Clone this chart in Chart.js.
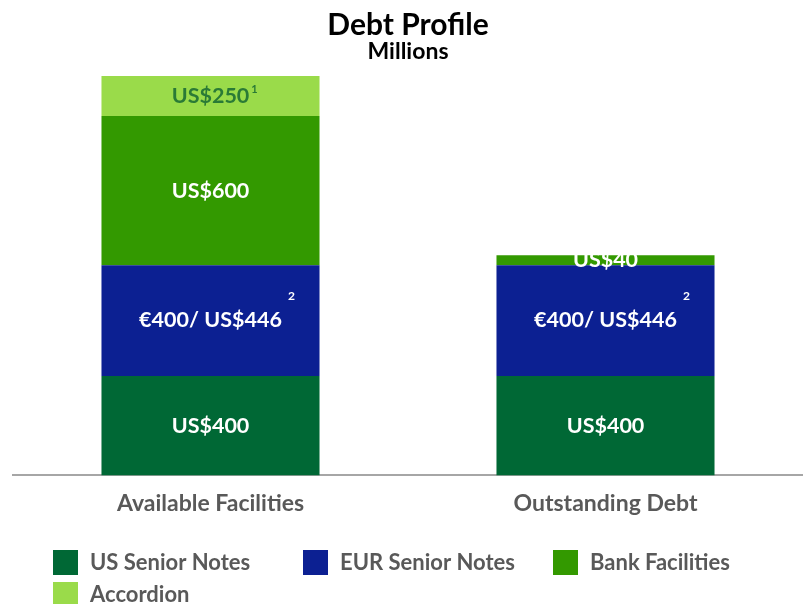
<!DOCTYPE html>
<html>
<head>
<meta charset="utf-8">
<script src="https://cdn.jsdelivr.net/npm/chart.js@4.4.1/dist/chart.umd.min.js"></script>
<style>
  html, body { margin: 0; padding: 0; background: #fff; }
</style>
</head>
<body>
<canvas id="chart" width="803" height="604"></canvas>
<script>
// Debt Profile - stacked bars (Millions)

const categories = ['Available Facilities', 'Outstanding Debt'];
const seriesNames = ['US Senior Notes', 'EUR Senior Notes', 'Bank Facilities', 'Accordion'];

const usSeniorNotes = [400, 400];
const eurSeniorNotes = [446, 446];
const bankFacilities = [600, 40];
const accordion = [250, 0];

// text shown inside the bar segments
const usLabels = ['US$400', 'US$400'];
const eurLabels = ['€400/ US$446', '€400/ US$446'];
const bankLabels = ['US$600', 'US$40'];
const accordionLabels = ['US$250', ''];
const footnotes = ['', '2', '', '1']; // footnote marker per series

const yMax = 1607; // axis top, the accordion segment gets cut at the top

const colors = ['#006835', '#0C2092', '#339900', '#9ADB4A'];
const labelColors = ['#ffffff', '#ffffff', '#ffffff', '#2A7A36'];
const FONT = 'Lato';

// draws the text inside each segment
const segmentLabels = {
  id: 'segmentLabels',
  afterDatasetsDraw(chart) {
    const ctx = chart.ctx;
    const area = chart.chartArea;
    const allLabels = [usLabels, eurLabels, bankLabels, accordionLabels];
    ctx.save();
    chart.data.datasets.forEach((ds, i) => {
      const meta = chart.getDatasetMeta(i);
      meta.data.forEach((bar, j) => {
        const text = allLabels[i][j];
        if (!text) return;
        const top = Math.max(bar.y, area.top);
        const cy = (top + bar.base) / 2;
        ctx.font = 'bold 21.5px ' + FONT;
        ctx.fillStyle = labelColors[i];
        ctx.textAlign = 'center';
        ctx.textBaseline = 'middle';
        ctx.fillText(text, bar.x, cy);
        const note = footnotes[i];
        if (note) {
          const w = ctx.measureText(text).width;
          ctx.textAlign = 'left';
          if (note === '2') {
            ctx.font = 'bold 12px ' + FONT;
            ctx.fillStyle = '#ffffff';
            ctx.fillText(note, bar.x + w / 2 + 6, cy - 24);
          } else {
            ctx.font = 'bold 11px ' + FONT;
            ctx.fillText(note, bar.x + w / 2 + 2, cy - 7);
          }
        }
      });
    });
    ctx.restore();
  }
};

// legend laid out in fixed columns like the original
const gridLegend = {
  id: 'gridLegend',
  afterDraw(chart) {
    const ctx = chart.ctx;
    const colX = [53, 303, 553];
    const rowY = [563, 595];
    ctx.save();
    ctx.font = 'bold 22px ' + FONT;
    ctx.textBaseline = 'middle';
    ctx.textAlign = 'left';
    chart.data.datasets.forEach((ds, i) => {
      const x = colX[i % 3];
      const y = rowY[Math.floor(i / 3)];
      ctx.fillStyle = ds.backgroundColor;
      ctx.fillRect(x, y - 13, 25, 25);
      ctx.fillStyle = '#595959';
      ctx.fillText(ds.label, x + 37, y);
    });
    ctx.restore();
  }
};

const datasets = [usSeniorNotes, eurSeniorNotes, bankFacilities, accordion].map((values, i) => ({
  label: seriesNames[i],
  data: values,
  backgroundColor: colors[i],
  borderWidth: 0,
  clip: 0,
  categoryPercentage: 1,
  barPercentage: 0.552
}));

new Chart(document.getElementById('chart'), {
  type: 'bar',
  data: { labels: categories, datasets: datasets },
  options: {
    responsive: false,
    animation: false,
    layout: { padding: { left: 13, right: 0, top: 0, bottom: 81 } },
    plugins: {
      legend: { display: false },
      tooltip: { enabled: false },
      title: {
        display: true,
        text: 'Debt Profile',
        color: '#000000',
        font: { family: FONT, size: 30, weight: 'bold', lineHeight: 1.0 },
        padding: { top: 10, bottom: 0 }
      },
      subtitle: {
        display: true,
        text: 'Millions',
        color: '#000000',
        font: { family: FONT, size: 23, weight: 'bold', lineHeight: 1.0 },
        padding: { top: 0, bottom: 13 }
      }
    },
    scales: {
      x: {
        stacked: true,
        grid: { display: false },
        border: { display: true, color: '#A6A6A6', width: 2 },
        ticks: {
          color: '#595959',
          padding: 6,
          font: { family: FONT, size: 23, weight: 'bold' }
        }
      },
      y: {
        stacked: true,
        display: false,
        min: 0,
        max: yMax
      }
    }
  },
  plugins: [segmentLabels, gridLegend]
});
</script>
</body>
</html>
